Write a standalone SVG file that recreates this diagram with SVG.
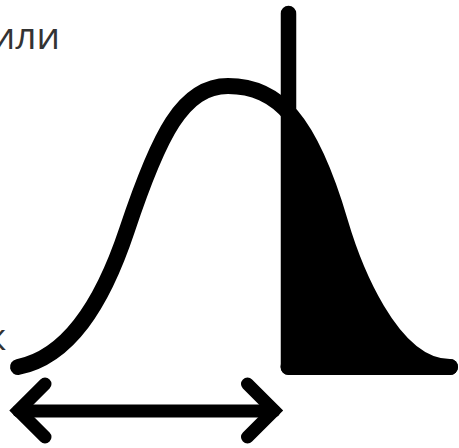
<svg xmlns="http://www.w3.org/2000/svg" width="459" height="448" viewBox="0 0 459 448">
  <style>
    .lbl { font-family: "Open Sans", "Noto Sans", "DejaVu Sans", sans-serif; font-size: 37px; fill: #333333; }
    .ln { fill: none; stroke: #000000; stroke-linecap: round; }
  </style>
  <defs>
    <path id="bell" d="M18,367 C68,357 102,305 127,230 C159,134 183,86 228,86 C278,86 310,120 340,222 C352,262.8 390,367 450,367"/>
    <clipPath id="tailClip">
      <rect x="288.5" y="0" width="171" height="367"/>
    </clipPath>
  </defs>

  <g id="label-top">
    <text class="lbl" x="60" y="49" text-anchor="end">или</text>
  </g>
  <g id="label-left">
    <text class="lbl" x="6" y="350" text-anchor="end">к</text>
  </g>

  <g id="tail">
    <path d="M18,367 C68,357 102,305 127,230 C159,134 183,86 228,86 C278,86 310,120 340,222 C352,262.8 390,367 450,367 L450,367.5 L18,367.5 Z" fill="#000000" clip-path="url(#tailClip)"/>
    <line class="ln" x1="288.5" y1="367" x2="450" y2="367" stroke-width="16"/>
  </g>

  <g id="curve">
    <use href="#bell" class="ln" stroke-width="16"/>
  </g>

  <g id="threshold">
    <line class="ln" x1="288.5" y1="13.5" x2="288.5" y2="367" stroke-width="15.5"/>
  </g>

  <g id="connectors">
    <g id="range-arrow" fill="none" stroke="#000000" stroke-width="13" stroke-linecap="round" stroke-linejoin="miter">
      <line x1="18.5" y1="411" x2="274" y2="411"/>
      <polyline points="45,384 18.5,410.5 45,437"/>
      <polyline points="247.5,384 274,410.5 247.5,437"/>
    </g>
  </g>
</svg>
